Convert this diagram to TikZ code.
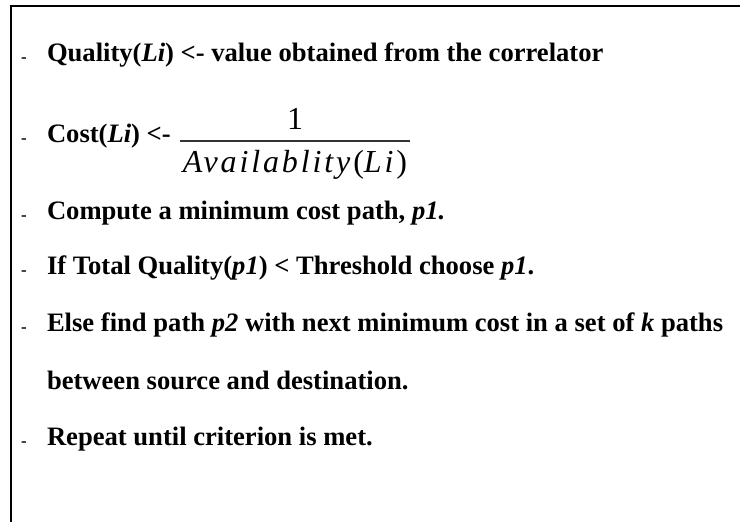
\documentclass[tikz,border=0pt]{standalone}
\usepackage{fontspec}
\setmainfont{Liberation Serif}

\begin{document}
\begin{tikzpicture}[x=1pt, y=-1pt, every node/.style={inner sep=0pt, outer sep=0pt}]
    \tikzset{
        item/.style={anchor=base west, font=\fontsize{26.6}{30}\selectfont\bfseries},
        dashmark/.style={anchor=base west, font=\fontsize{17}{18}\selectfont\bfseries},
        mathtext/.style={anchor=base, font=\fontsize{32}{36}\selectfont}
    }
    \useasboundingbox (0,0) rectangle (740,522);

    % frame (only top and left edges show)
    \coordinate (tl) at (11,6);
    \coordinate (tr) at (740,6);
    \coordinate (bl) at (11,522);
    \draw[line width=2.4pt] (tr) -- (tl) -- (bl);

    % list markers
    \node[dashmark] (m1) at (21,62) {-};
    \node[dashmark] (m2) at (21,143) {-};
    \node[dashmark] (m3) at (21,220) {-};
    \node[dashmark] (m4) at (21,275) {-};
    \node[dashmark] (m5) at (21,332) {-};
    \node[dashmark] (m6) at (21,446) {-};

    % lines of text
    \node[item] (quality) at (47,61) {Quality(\textit{Li}) <- value obtained from the correlator};
    \node[item] (cost) at (47,142) {Cost(\textit{Li}) <-};
    \node[item] (compute) at (47,219) {Compute a minimum cost path, \textit{p1.}};
    \node[item] (ifq) at (47,274) {If Total Quality(\textit{p1}) < Threshold choose \textit{p1}.};
    \node[item] (elsep) at (47,331) {Else find path \textit{p2} with next minimum cost in a set of \textit{k} paths};
    \node[item] (between) at (47,389) {between source and destination.};
    \node[item] (repeat) at (47,445) {Repeat until criterion is met.};

    % fraction
    \node[mathtext] (num) at (295,129) {1};
    \coordinate (barl) at (180,141);
    \coordinate (barr) at (410,141);
    \draw[line width=1.4pt, black!80] (barl) -- (barr);
    \node[mathtext] (den) at (295,172) {\addfontfeature{LetterSpace=9}\textit{Availablity}(\textit{Li})};
\end{tikzpicture}
\end{document}
